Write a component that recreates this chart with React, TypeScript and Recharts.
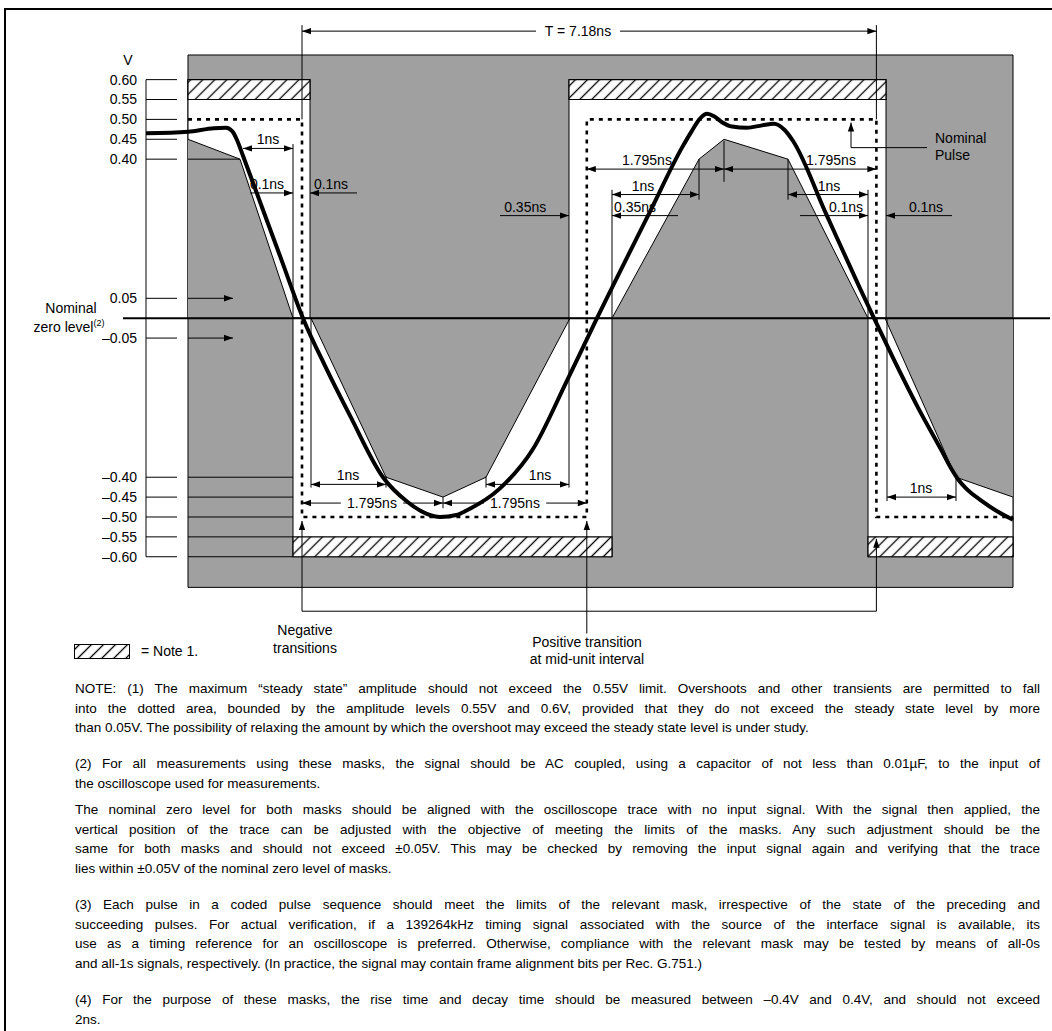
import React from "react";
import {
  Area,
  ComposedChart,
  Line,
  ReferenceArea,
  ReferenceLine,
  Scatter,
  XAxis,
  YAxis,
} from "recharts";

const FONT = '"Liberation Sans", Arial, Helvetica, sans-serif';
const GRAY = "#a0a0a0";

// time in ns (0 = first negative transition), amplitude in V
const yTicks = [0.6, 0.55, 0.5, 0.45, 0.4, 0.05, 0, -0.05, -0.4, -0.45, -0.5, -0.55, -0.6];
const levelLines = [-0.4, -0.45, -0.5, -0.55, -0.6];

const traceT = [
  -1.95, -1.425, -1.1, -0.95, -0.87, -0.81, -0.74, -0.5, -0.25, 0.0125, 0.3, 0.6,
  1.0125, 1.3125, 1.56, 1.725, 1.93, 2.0625, 2.475, 2.8875, 3.3125, 3.6875, 4.35, 4.75,
  4.87, 4.975, 5.0625, 5.15, 5.25, 5.375, 5.5625, 5.75, 5.9, 6.03, 6.14, 6.55, 6.975,
  7.15, 7.4, 7.7, 8.0, 8.12, 8.2, 8.3, 8.5, 8.7, 8.8875,
];
const traceV = [
  0.465, 0.469, 0.478, 0.479, 0.47, 0.447, 0.41, 0.279, 0.143, 0, -0.125, -0.245,
  -0.4, -0.461, -0.492, -0.5, -0.495, -0.483, -0.428, -0.329, -0.157, 0, 0.268, 0.429,
  0.47, 0.502, 0.514, 0.508, 0.493, 0.482, 0.479, 0.485, 0.489, 0.474, 0.445, 0.263, 0.075,
  0, -0.105, -0.225, -0.335, -0.38, -0.405, -0.428, -0.46, -0.487, -0.507,
];
const trace = traceT.map((t, i) => ({ t, v: traceV[i] }));

const nominalT = [-1.425, 0, 0, 3.56, 3.56, 7.18, 7.18, 8.8875];
const nominalV = [0.5, 0.5, -0.5, -0.5, 0.5, 0.5, -0.5, -0.5];
const nominal = nominalT.map((t, i) => ({ t, v: nominalV[i] }));

const field = { t1: -1.425, t2: 8.8875, v1: -0.677, v2: 0.662 };

const outerWindows = [
  { t1: -1.425, t2: 0.1, v1: 0, v2: 0.6 },
  { t1: -0.1125, t2: 3.875, v1: -0.6, v2: 0 },
  { t1: 3.3375, t2: 7.3, v1: 0, v2: 0.6 },
  { t1: 7.075, t2: 8.8875, v1: -0.6, v2: 0 },
];

const overshootBands = [
  { t1: -1.425, t2: 0.1, v1: 0.55, v2: 0.6 },
  { t1: -0.1125, t2: 3.875, v1: -0.6, v2: -0.55 },
  { t1: 3.3375, t2: 7.3, v1: 0.55, v2: 0.6 },
  { t1: 7.075, t2: 8.8875, v1: -0.6, v2: -0.55 },
];

const innerMasks = [
  [{ t: -1.425, v: 0.45 }, { t: -0.775, v: 0.4 }, { t: -0.1125, v: 0 }],
  [{ t: 0.1125, v: 0 }, { t: 1.05, v: -0.4 }, { t: 1.7625, v: -0.45 }, { t: 2.3, v: -0.4 }, { t: 3.35, v: 0 }],
  [{ t: 3.875, v: 0 }, { t: 4.9625, v: 0.4 }, { t: 5.275, v: 0.45 }, { t: 6.075, v: 0.4 }, { t: 7.075, v: 0 }],
  [{ t: 7.2875, v: 0 }, { t: 8.175, v: -0.4 }, { t: 8.8875, v: -0.45 }],
];

type Dim = {
  t1: number;
  t2: number;
  v1: number;
  v2: number;
  ends: "both" | "start" | "end" | "none";
  text?: string;
  at?: number;
  inline?: boolean;
};

const dims: Dim[] = [
  { t1: 0, t2: 7.18, v1: 0.722, v2: 0.722, ends: "both", text: "T = 7.18ns", at: 3.45, inline: true },
  { t1: 0, t2: 0, v1: 0.737, v2: 0.5, ends: "none" },
  { t1: 7.18, t2: 7.18, v1: 0.737, v2: 0.5, ends: "none" },
  { t1: -0.7375, t2: -0.1125, v1: 0.427, v2: 0.427, ends: "both", text: "1ns", at: -0.425 },
  { t1: -0.1125, t2: -0.1125, v1: 0.438, v2: 0, ends: "none" },
  { t1: -0.65, t2: -0.1125, v1: 0.315, v2: 0.315, ends: "end", text: "0.1ns", at: -0.4375 },
  { t1: 0.6875, t2: 0.1, v1: 0.315, v2: 0.315, ends: "end", text: "0.1ns", at: 0.3625 },
  { t1: -1.425, t2: -0.8625, v1: 0.05, v2: 0.05, ends: "end" },
  { t1: -1.425, t2: -0.8625, v1: -0.05, v2: -0.05, ends: "end" },
  { t1: -1.425, t2: -0.775, v1: 0.4, v2: 0.4, ends: "none" },
  // negative pulse
  { t1: 0.1125, t2: 1.05, v1: -0.418, v2: -0.418, ends: "both", text: "1ns", at: 0.575 },
  { t1: 0.1125, t2: 0.1125, v1: 0, v2: -0.426, ends: "none" },
  { t1: 1.05, t2: 1.05, v1: -0.398, v2: -0.426, ends: "none" },
  { t1: 2.3, t2: 3.3375, v1: -0.418, v2: -0.418, ends: "both", text: "1ns", at: 2.975 },
  { t1: 3.3375, t2: 3.3375, v1: 0, v2: -0.426, ends: "none" },
  { t1: 2.3, t2: 2.3, v1: -0.398, v2: -0.426, ends: "none" },
  { t1: 0, t2: 1.7625, v1: -0.465, v2: -0.465, ends: "both", text: "1.795ns", at: 0.875, inline: true },
  { t1: 1.7625, t2: 3.56, v1: -0.465, v2: -0.465, ends: "both", text: "1.795ns", at: 2.6625, inline: true },
  { t1: 1.7625, t2: 1.7625, v1: -0.45, v2: -0.478, ends: "none" },
  // positive pulse
  { t1: 3.56, t2: 5.275, v1: 0.375, v2: 0.375, ends: "both", text: "1.795ns", at: 4.3125 },
  { t1: 5.275, t2: 7.18, v1: 0.375, v2: 0.375, ends: "both", text: "1.795ns", at: 6.6125 },
  { t1: 5.275, t2: 5.275, v1: 0.446, v2: 0.343, ends: "none" },
  { t1: 3.875, t2: 4.9625, v1: 0.311, v2: 0.311, ends: "both", text: "1ns", at: 4.2625 },
  { t1: 3.875, t2: 3.875, v1: 0, v2: 0.323, ends: "none" },
  { t1: 4.9625, t2: 4.9625, v1: 0.4, v2: 0.298, ends: "none" },
  { t1: 4.7, t2: 3.875, v1: 0.258, v2: 0.258, ends: "end", text: "0.35ns", at: 4.1625 },
  { t1: 6.075, t2: 7.075, v1: 0.311, v2: 0.311, ends: "both", text: "1ns", at: 6.5875 },
  { t1: 7.075, t2: 7.075, v1: 0, v2: 0.323, ends: "none" },
  { t1: 6.075, t2: 6.075, v1: 0.4, v2: 0.298, ends: "none" },
  { t1: 6.225, t2: 7.075, v1: 0.258, v2: 0.258, ends: "end", text: "0.1ns", at: 6.8 },
  { t1: 8.125, t2: 7.3, v1: 0.258, v2: 0.258, ends: "end", text: "0.1ns", at: 7.8 },
  { t1: 2.475, t2: 3.3375, v1: 0.258, v2: 0.258, ends: "end", text: "0.35ns", at: 2.79 },
  // trailing negative
  { t1: 7.3125, t2: 8.175, v1: -0.45, v2: -0.45, ends: "both", text: "1ns", at: 7.7375 },
  { t1: 7.3125, t2: 7.3125, v1: 0, v2: -0.46, ends: "none" },
  { t1: 8.175, t2: 8.175, v1: -0.4, v2: -0.46, ends: "none" },
  // leaders
  { t1: 7.8125, t2: 6.8625, v1: 0.429, v2: 0.429, ends: "none" },
  { t1: 6.8625, t2: 6.8625, v1: 0.429, v2: 0.492, ends: "end" },
  { t1: 0, t2: 0, v1: -0.737, v2: -0.51, ends: "end" },
  { t1: 0, t2: 7.18, v1: -0.737, v2: -0.737, ends: "none" },
  { t1: 7.18, t2: 7.18, v1: -0.737, v2: -0.555, ends: "end" },
  { t1: 3.56, t2: 3.56, v1: -0.793, v2: -0.51, ends: "end" },
  // axis line
  { t1: -1.95, t2: -1.95, v1: -0.6, v2: 0.6, ends: "none" },
];

const labels = [
  { t: -2.175, v: 0.649, text: "V", anchor: "middle" },
  { t: 7.9125, v: 0.453, text: "Nominal", anchor: "start" },
  { t: 7.9125, v: 0.41, text: "Pulse", anchor: "start" },
  { t: 0.0375, v: -0.785, text: "Negative", anchor: "middle" },
  { t: 0.0375, v: -0.83, text: "transitions", anchor: "middle" },
  { t: 3.5625, v: -0.815, text: "Positive transition", anchor: "middle" },
  { t: 3.5625, v: -0.858, text: "at mid-unit interval", anchor: "middle" },
];

const notes: string[][] = [
  [
    "NOTE: (1) The maximum \u201csteady state\u201d amplitude should not exceed the 0.55V limit. Overshoots and other transients are permitted to fall",
    "into the dotted area, bounded by the amplitude levels 0.55V and 0.6V, provided that they do not exceed the steady state level by more",
    "than 0.05V. The possibility of relaxing the amount by which the overshoot may exceed the steady state level is under study.",
  ],
  [
    "(2) For all measurements using these masks, the signal should be AC coupled, using a capacitor of not less than 0.01\u00b5F, to the input of",
    "the oscilloscope used for measurements.",
  ],
  [
    "The nominal zero level for both masks should be aligned with the oscilloscope trace with no input signal. With the signal then applied, the",
    "vertical position of the trace can be adjusted with the objective of meeting the limits of the masks. Any such adjustment should be the",
    "same for both masks and should not exceed \u00b10.05V. This may be checked by removing the input signal again and verifying that the trace",
    "lies within \u00b10.05V of the nominal zero level of masks.",
  ],
  [
    "(3) Each pulse in a coded pulse sequence should meet the limits of the relevant mask, irrespective of the state of the preceding and",
    "succeeding pulses. For actual verification, if a 139264kHz timing signal associated with the source of the interface signal is available, its",
    "use as a timing reference for an oscilloscope is preferred. Otherwise, compliance with the relevant mask may be tested by means of all-0s",
    "and all-1s signals, respectively. (In practice, the signal may contain frame alignment bits per Rec. G.751.)",
  ],
  [
    "(4) For the purpose of these masks, the rise time and decay time should be measured between \u20130.4V and 0.4V, and should not exceed",
    "2ns.",
  ],
];
const noteGaps = [0, 16.3, 6.3, 16.3, 16.3];

const fmt = (v: number) => (v < 0 ? "\u2013" + Math.abs(v).toFixed(2) : v.toFixed(2));

const renderTick = (props: any) => {
  const { x, y, payload } = props;
  const v = payload.value;
  if (v === 0) {
    return (
      <g fontFamily={FONT} fontSize={14} fill="#000">
        <text x={x - 51} y={y - 5} textAnchor="middle">Nominal</text>
        <text x={x - 53} y={y + 14} textAnchor="middle">
          zero level<tspan fontSize={9} dy={-6}>(2)</tspan>
        </text>
      </g>
    );
  }
  return (
    <text x={x + 15} y={y} dy="0.35em" textAnchor="end" fontFamily={FONT} fontSize={14} fill="#000">
      {fmt(v)}
    </text>
  );
};

const arrowHead = (tx: number, ty: number, fx: number, fy: number, key: string) => {
  const dx = tx - fx;
  const dy = ty - fy;
  const len = Math.hypot(dx, dy) || 1;
  const ux = dx / len;
  const uy = dy / len;
  const L = 9;
  const W = 3.2;
  const bx = tx - ux * L;
  const by = ty - uy * L;
  return (
    <polygon
      key={key}
      points={`${tx},${ty} ${bx - uy * W},${by + ux * W} ${bx + uy * W},${by - ux * W}`}
      fill="#000"
    />
  );
};

const dimShape = (d: Dim) => (p: any) => {
  const { x1, y1, x2, y2 } = p;
  let label = null;
  if (d.text) {
    const frac = ((d.at ?? d.t1) - d.t1) / (d.t2 - d.t1 || 1);
    const cx = x1 + (x2 - x1) * frac;
    const w = d.text.length * 7.2 + 12;
    label = d.inline ? (
      <g>
        <rect x={cx - w / 2} y={y1 - 8} width={w} height={16} fill="#fff" />
        <text x={cx} y={y1} dy="0.35em" textAnchor="middle" fontFamily={FONT} fontSize={14} fill="#000">
          {d.text}
        </text>
      </g>
    ) : (
      <text x={cx} y={y1 - 4} textAnchor="middle" fontFamily={FONT} fontSize={14} fill="#000">
        {d.text}
      </text>
    );
  }
  return (
    <g>
      <line x1={x1} y1={y1} x2={x2} y2={y2} stroke="#000" strokeWidth={1} />
      {(d.ends === "both" || d.ends === "end") && arrowHead(x2, y2, x1, y1, "e")}
      {(d.ends === "both" || d.ends === "start") && arrowHead(x1, y1, x2, y2, "s")}
      {label}
    </g>
  );
};

const textShape = (p: any) => {
  const { cx, cy, payload } = p;
  return (
    <text x={cx} y={cy} dy="0.35em" textAnchor={payload.anchor} fontFamily={FONT} fontSize={14} fill="#000">
      {payload.text}
    </text>
  );
};

const HatchBox = () => (
  <svg width={56} height={15} style={{ display: "block" }}>
    <defs>
      <pattern id="hatchLegend" patternUnits="userSpaceOnUse" width="8.5" height="8.5" patternTransform="rotate(45)">
        <rect width="8.5" height="8.5" fill="#fff" />
        <line x1="4.25" y1="0" x2="4.25" y2="8.5" stroke="#000" strokeWidth="1.3" />
      </pattern>
    </defs>
    <rect x={0.5} y={0.5} width={55} height={14} fill="url(#hatchLegend)" stroke="#000" strokeWidth={1} />
  </svg>
);

export default function App() {
  return (
    <div
      style={{
        position: "absolute",
        left: 0,
        top: 0,
        width: 1052,
        height: 1031,
        background: "#fff",
        fontFamily: FONT,
        color: "#000",
        overflow: "hidden",
      }}
    >
      <div style={{ position: "absolute", left: 4, top: 8, width: 2, height: 1023, background: "#000" }} />
      <div style={{ position: "absolute", left: 4, top: 8, width: 1048, height: 2, background: "#000" }} />

      <div style={{ position: "absolute", left: 0, top: 0 }}>
        <ComposedChart width={1052} height={700} margin={{ top: 20, right: 2, bottom: 20, left: 0 }}>
          <defs>
            <pattern id="hatch" patternUnits="userSpaceOnUse" width="8.5" height="8.5" patternTransform="rotate(45)">
              <rect width="8.5" height="8.5" fill="#fff" />
              <line x1="4.25" y1="0" x2="4.25" y2="8.5" stroke="#000" strokeWidth="1.3" />
            </pattern>
          </defs>
          <XAxis type="number" dataKey="t" domain={[-2.25, 9.35]} allowDataOverflow hide />
          <YAxis
            type="number"
            domain={[-0.91, 0.75]}
            allowDataOverflow
            width={122}
            ticks={yTicks}
            interval={0}
            axisLine={false}
            tickLine={false}
            tickSize={0}
            tickMargin={0}
            tick={renderTick}
          />

          <ReferenceArea
            x1={field.t1}
            x2={field.t2}
            y1={field.v1}
            y2={field.v2}
            fill={GRAY}
            fillOpacity={1}
            stroke="#000"
            strokeWidth={1}
            ifOverflow="visible"
          />
          {outerWindows.map((w, i) => (
            <ReferenceArea
              key={`w${i}`}
              x1={w.t1}
              x2={w.t2}
              y1={w.v1}
              y2={w.v2}
              fill="#fff"
              fillOpacity={1}
              stroke="#000"
              strokeWidth={1}
              ifOverflow="visible"
            />
          ))}
          {overshootBands.map((b, i) => (
            <ReferenceArea
              key={`h${i}`}
              x1={b.t1}
              x2={b.t2}
              y1={b.v1}
              y2={b.v2}
              fill="url(#hatch)"
              fillOpacity={1}
              stroke="#000"
              strokeWidth={1.2}
              ifOverflow="visible"
            />
          ))}

          {innerMasks.map((m, i) => (
            <Area
              key={`m${i}`}
              data={m}
              dataKey="v"
              type="linear"
              baseValue={0}
              fill={GRAY}
              fillOpacity={1}
              stroke="#000"
              strokeWidth={1}
              dot={false}
              activeDot={false}
              isAnimationActive={false}
            />
          ))}

          {yTicks
            .filter((v) => v !== 0)
            .map((v) => (
              <ReferenceLine
                key={`tk${v}`}
                segment={[{ x: -1.95, y: v }, { x: -1.5625, y: v }]}
                stroke="#000"
                strokeWidth={1}
                ifOverflow="visible"
              />
            ))}
          {levelLines.map((v) => (
            <ReferenceLine
              key={`lv${v}`}
              segment={[{ x: -1.425, y: v }, { x: -0.1125, y: v }]}
              stroke="#000"
              strokeWidth={1}
              ifOverflow="visible"
            />
          ))}
          {dims.map((d, i) => (
            <ReferenceLine
              key={`d${i}`}
              segment={[{ x: d.t1, y: d.v1 }, { x: d.t2, y: d.v2 }]}
              shape={dimShape(d)}
              ifOverflow="visible"
            />
          ))}

          <ReferenceLine
            segment={[{ x: -2.2375, y: 0 }, { x: 9.35, y: 0 }]}
            stroke="#000"
            strokeWidth={2}
            ifOverflow="visible"
          />

          <Line
            data={nominal}
            dataKey="v"
            type="linear"
            stroke="#000"
            strokeWidth={2.6}
            strokeDasharray="4 5"
            dot={false}
            activeDot={false}
            isAnimationActive={false}
          />
          <Line
            data={trace}
            dataKey="v"
            type="monotone"
            stroke="#000"
            strokeWidth={4}
            strokeLinejoin="round"
            dot={false}
            activeDot={false}
            isAnimationActive={false}
          />
          <Scatter data={labels} dataKey="v" shape={textShape} isAnimationActive={false} />
        </ComposedChart>
      </div>

      <div style={{ position: "absolute", left: 74, top: 644 }}>
        <HatchBox />
      </div>
      <div style={{ position: "absolute", left: 141, top: 643, fontSize: 14, lineHeight: "16px" }}>= Note 1.</div>

      <div style={{ position: "absolute", left: 75, top: 679, width: 965, fontSize: 13.5 }}>
        {notes.map((para, pi) => (
          <div key={pi} style={{ marginTop: noteGaps[pi] }}>
            {para.map((line, li) => {
              const last = li === para.length - 1;
              return (
                <div
                  key={li}
                  style={{
                    lineHeight: "19.7px",
                    height: 19.7,
                    textAlign: last ? "left" : "justify",
                    textAlignLast: last ? "left" : "justify",
                    whiteSpace: "nowrap",
                  }}
                >
                  {line}
                </div>
              );
            })}
          </div>
        ))}
      </div>
    </div>
  );
}
